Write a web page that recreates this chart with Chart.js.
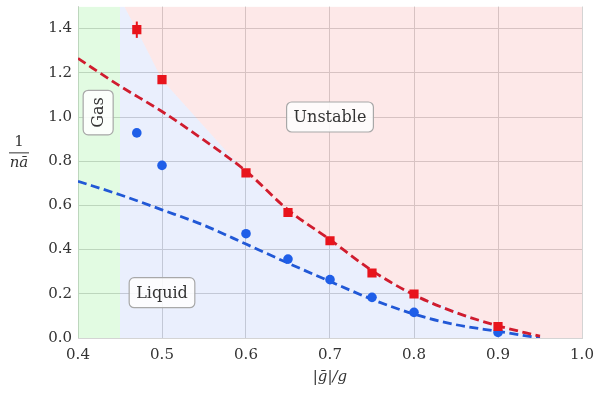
<!DOCTYPE html>
<html lang="en">
<head>
  <meta charset="UTF-8">
  <title>Phase diagram</title>
  <style>
    body { margin: 0; background: #fff; }
    .wrap { width: 595px; height: 398px; }
  </style>
  <script src="https://cdn.jsdelivr.net/npm/chart.js"></script>
</head>
<body>
  <div class="wrap"><canvas id="phaseChart" width="595" height="398"></canvas></div>

  <script>
    // tick values
    const xTicks = [0.4, 0.5, 0.6, 0.7, 0.8, 0.9, 1.0];
    const yTicks = [0.0, 0.2, 0.4, 0.6, 0.8, 1.0, 1.2, 1.4];

    // measured points
    const gRatio = [0.47, 0.5, 0.6, 0.65, 0.7, 0.75, 0.8, 0.9];
    const redSquares = [1.395, 1.169, 0.747, 0.568, 0.44, 0.294, 0.199, 0.052];
    const redErr = [0.037, 0.008, 0.014, 0.008, 0.007, 0.006, 0.005, 0.004];
    const blueDots = [0.928, 0.781, 0.472, 0.357, 0.264, 0.184, 0.116, 0.025];

    // dashed theory curves
    const curveX = [0.4, 0.45, 0.5, 0.55, 0.6, 0.65, 0.7, 0.75, 0.8, 0.85, 0.9, 0.95];
    const redCurve = [1.265, 1.14, 1.025, 0.895, 0.755, 0.58, 0.445, 0.305, 0.195, 0.115, 0.055, 0.008];
    const blueCurve = [0.709, 0.648, 0.58, 0.51, 0.425, 0.339, 0.256, 0.175, 0.108, 0.06, 0.03, 0.0];

    // region boundaries
    const gasX = [0.4, 0.45];
    const gasY = [1.5, 1.5];
    const edgeX = [0.45, 0.455, 0.47, 0.5, 0.6, 0.65, 0.7, 0.75, 0.8, 0.9, 0.95, 1.0];
    const edgeY = [1.5, 1.5, 1.395, 1.169, 0.747, 0.568, 0.44, 0.294, 0.199, 0.052, 0.0, 0.0];

    const regionLabels = [
      { text: 'Gas', x: 0.424, y: 1.02, rotate: true },
      { text: 'Unstable', x: 0.7, y: 1.0, rotate: false },
      { text: 'Liquid', x: 0.5, y: 0.205, rotate: false }
    ];

    const FONT = "'DejaVu Serif', serif";
    const pts = (xs, ys) => xs.map((x, i) => ({ x: x, y: ys[i] }));

    const decorPlugin = {
      id: 'decor',
      afterDatasetsDraw(chart) {
        const ctx = chart.ctx;
        const xs = chart.scales.x, ys = chart.scales.y;
        // error bars on red squares
        ctx.save();
        ctx.strokeStyle = '#e8141c';
        ctx.lineWidth = 2;
        gRatio.forEach((g, i) => {
          const px = xs.getPixelForValue(g);
          ctx.beginPath();
          ctx.moveTo(px, ys.getPixelForValue(redSquares[i] - redErr[i]));
          ctx.lineTo(px, ys.getPixelForValue(redSquares[i] + redErr[i]));
          ctx.stroke();
        });
        ctx.restore();
      },
      afterDraw(chart) {
        const ctx = chart.ctx;
        const xs = chart.scales.x, ys = chart.scales.y;
        ctx.save();
        ctx.font = '16px ' + FONT;
        ctx.textAlign = 'center';
        ctx.textBaseline = 'middle';
        regionLabels.forEach(l => {
          const px = xs.getPixelForValue(l.x);
          const py = ys.getPixelForValue(l.y);
          const w = ctx.measureText(l.text).width + 14;
          const h = 30;
          ctx.save();
          ctx.translate(px, py);
          if (l.rotate) ctx.rotate(-Math.PI / 2);
          ctx.beginPath();
          ctx.roundRect(-w / 2, -h / 2, w, h, 5);
          ctx.fillStyle = 'rgba(255,255,255,0.85)';
          ctx.fill();
          ctx.strokeStyle = '#a8a8a8';
          ctx.lineWidth = 1.2;
          ctx.stroke();
          ctx.fillStyle = '#333';
          ctx.fillText(l.text, 0, 1);
          ctx.restore();
        });

        // y axis title as a fraction 1 / (n ā)
        const cx = 19, cy = ys.getPixelForValue(0.84);
        ctx.fillStyle = '#333';
        ctx.font = '15px ' + FONT;
        ctx.fillText('1', cx, cy - 10);
        ctx.strokeStyle = '#333';
        ctx.lineWidth = 1;
        ctx.beginPath();
        ctx.moveTo(cx - 10, cy + 0.5);
        ctx.lineTo(cx + 10, cy + 0.5);
        ctx.stroke();
        ctx.font = 'italic 15px ' + FONT;
        ctx.fillText('nā', cx, cy + 11);
        ctx.restore();
      }
    };

    const ctx = document.getElementById('phaseChart').getContext('2d');
    new Chart(ctx, {
      type: 'scatter',
      data: {
        datasets: [
          {
            label: 'red points',
            data: pts(gRatio, redSquares),
            pointStyle: 'rect',
            pointRadius: 6.5,
            pointBorderWidth: 0,
            backgroundColor: '#e8141c',
            order: 1
          },
          {
            label: 'blue points',
            data: pts(gRatio, blueDots),
            pointStyle: 'circle',
            pointRadius: 4.8,
            pointBorderWidth: 0,
            backgroundColor: '#1f5ee8',
            order: 1
          },
          {
            label: 'red curve',
            data: pts(curveX, redCurve),
            showLine: true,
            pointRadius: 0,
            borderColor: '#d01c2e',
            borderWidth: 2.8,
            borderDash: [9, 4.5],
            cubicInterpolationMode: 'monotone',
            order: 5
          },
          {
            label: 'blue curve',
            data: pts(curveX, blueCurve),
            showLine: true,
            pointRadius: 0,
            borderColor: '#2158d6',
            borderWidth: 2.8,
            borderDash: [9, 4.5],
            cubicInterpolationMode: 'monotone',
            order: 5
          },
          {
            label: 'liquid',
            data: pts(edgeX, edgeY),
            showLine: true,
            pointRadius: 0,
            borderWidth: 0,
            borderColor: 'rgba(0,0,0,0)',
            backgroundColor: 'rgba(60,110,240,0.11)',
            fill: 'origin',
            order: 10
          },
          {
            label: 'unstable',
            data: pts(edgeX, edgeY),
            showLine: true,
            pointRadius: 0,
            borderWidth: 0,
            borderColor: 'rgba(0,0,0,0)',
            backgroundColor: 'rgba(240,80,80,0.13)',
            fill: 'end',
            order: 10
          },
          {
            label: 'gas',
            data: pts(gasX, gasY),
            showLine: true,
            pointRadius: 0,
            borderWidth: 0,
            borderColor: 'rgba(0,0,0,0)',
            backgroundColor: 'rgba(60,230,60,0.15)',
            fill: 'origin',
            order: 10
          }
        ]
      },
      options: {
        responsive: false,
        animation: false,
        layout: { padding: { top: 5, right: 13, left: 0, bottom: 0 } },
        plugins: {
          legend: { display: false },
          tooltip: { enabled: false }
        },
        scales: {
          x: {
            type: 'linear',
            min: 0.4,
            max: 1.0,
            afterBuildTicks: s => { s.ticks = xTicks.map(v => ({ value: v })); },
            afterFit: s => { s.height = 60; s.paddingRight = 0; s.paddingLeft = 0; },
            ticks: {
              color: '#333',
              font: { family: FONT, size: 15 },
              padding: 8,
              callback: v => Number(v).toFixed(1)
            },
            grid: { color: '#d4d4d4', drawTicks: false },
            border: { color: '#d4d4d4' },
            title: {
              display: true,
              text: '|ḡ|/g',
              color: '#333',
              font: { family: FONT, size: 15, style: 'italic' },
              padding: { top: 0, bottom: 12 }
            }
          },
          y: {
            type: 'linear',
            min: 0,
            max: 1.5,
            afterBuildTicks: s => { s.ticks = yTicks.map(v => ({ value: v })); },
            afterFit: s => { s.width = 78; s.paddingTop = 0; s.paddingBottom = 0; },
            ticks: {
              color: '#333',
              font: { family: FONT, size: 15 },
              padding: 6,
              callback: v => Number(v).toFixed(1)
            },
            grid: { color: '#d4d4d4', drawTicks: false },
            border: { color: '#d4d4d4' }
          }
        }
      },
      plugins: [decorPlugin]
    });
  </script>
</body>
</html>
